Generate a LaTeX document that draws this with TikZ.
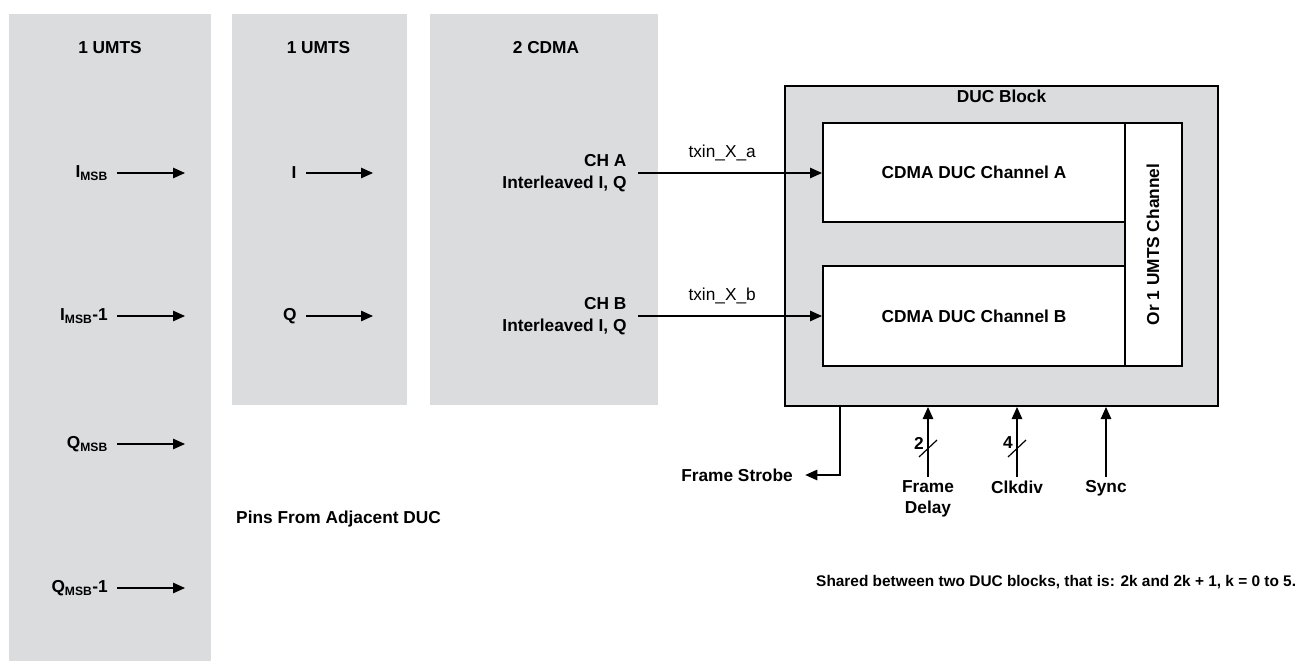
\documentclass[tikz,border=0pt]{standalone}
\usepackage{fontspec}
\setmainfont{Liberation Sans}
\usetikzlibrary{arrows.meta}
\definecolor{panelgray}{RGB}{219,220,222}

\begin{document}
\begin{tikzpicture}[x=1pt,y=-1pt,
    every node/.style={font=\fontsize{17.3}{21.5}\selectfont\bfseries},
    plain/.style={font=\fontsize{17.3}{21.5}\selectfont},
    sig/.style={-{Triangle[length=12pt,width=10.5pt]},line width=1.2pt},
    box/.style={draw,line width=2pt,fill=white,inner sep=0pt}]
    \useasboundingbox (0,0) rectangle (1299,661);
    % input panels
    \fill[panelgray] (9,14) rectangle (211,661);
    \fill[panelgray] (232,14) rectangle (407,405);
    \fill[panelgray] (430,14) rectangle (658,405);
    \node (t1) at (110,48) {1 UMTS};
    \node (t2) at (318.5,48) {1 UMTS};
    \node (t3) at (546,48) {2 CDMA};
    \foreach \y/\nm/\txt in {173/imsb/{I\textsubscript{MSB}},316/imsbm/{I\textsubscript{MSB}-1},444/qmsb/{Q\textsubscript{MSB}},588/qmsbm/{Q\textsubscript{MSB}-1}}{
        \node[anchor=base east] (\nm) at (111.3,\y+4.5) {\txt};
        \coordinate (\nm e) at (185,\y);
        \draw[sig,shorten <=6pt] (\nm.east |- \nm e) -- (\nm e);
    }
    \foreach \y/\nm/\txt in {173/ui/I,316/uq/Q}{
        \node[anchor=east] (\nm) at (300,\y) {\txt};
        \coordinate (\nm e) at (373,\y);
        \draw[sig,shorten <=6pt] (\nm.east |- \nm e) -- (\nm e);
    }
    \node[anchor=east,align=right] (cha) at (630,173) {CH A\\Interleaved I, Q};
    \node[anchor=east,align=right] (chb) at (630,316) {CH B\\Interleaved I, Q};
    % DUC block
    \node[draw,line width=2pt,fill=panelgray,minimum width=433pt,minimum height=320pt,inner sep=0pt] (duc) at (1001.5,246) {};
    \node (duct) at (1001.5,96) {DUC Block};
    \node[box,minimum width=302pt,minimum height=99pt] (chA) at (974,172.5) {CDMA DUC Channel A};
    \node[box,minimum width=302pt,minimum height=100pt] (chB) at (974,316) {CDMA DUC Channel B};
    \node[box,rotate=90,minimum width=243pt,minimum height=57pt] (umts) at (1153,244.5) {Or 1 UMTS Channel};
    \draw[sig,shorten <=8pt] (cha.east) -- (cha.east -| chA.west) node[plain,pos=0.48,above=8pt] (txa) {txin\_X\_a};
    \draw[sig,shorten <=8pt] (chb.east) -- (chb.east -| chB.west) node[plain,pos=0.48,above=8pt] (txb) {txin\_X\_b};
    % control pins
    \coordinate (fsc) at (840,475);
    \node[anchor=east] (fs) at (796.3,475) {Frame Strobe};
    \draw[sig,shorten >=9pt] (duc.south -| fsc) -- (fsc) -- (fs.east);
    \foreach \x/\nm/\txt in {928/fdel/{Frame\\Delay},1017/clk/Clkdiv,1106/sync/Sync}{
        \node[anchor=north,align=center] (\nm) at (\x,477) {\txt};
        \draw[sig] (\nm.north) -- (\nm.north |- duc.south);
    }
    \foreach \x/\w in {928/2,1017/4}{
        \draw[line width=1.2pt] (\x-9,457) -- (\x+9,440);
        \node (w\w) at (\x-9,443) {\w};
    }
    \node[anchor=west] (pins) at (232.7,519) {Pins From Adjacent DUC};
    \node[anchor=west,font=\fontsize{15.4}{18}\selectfont\bfseries] (shared) at (812.7,582) {Shared between two DUC blocks, that is: 2k and 2k + 1, k = 0 to 5.};
\end{tikzpicture}
\end{document}
